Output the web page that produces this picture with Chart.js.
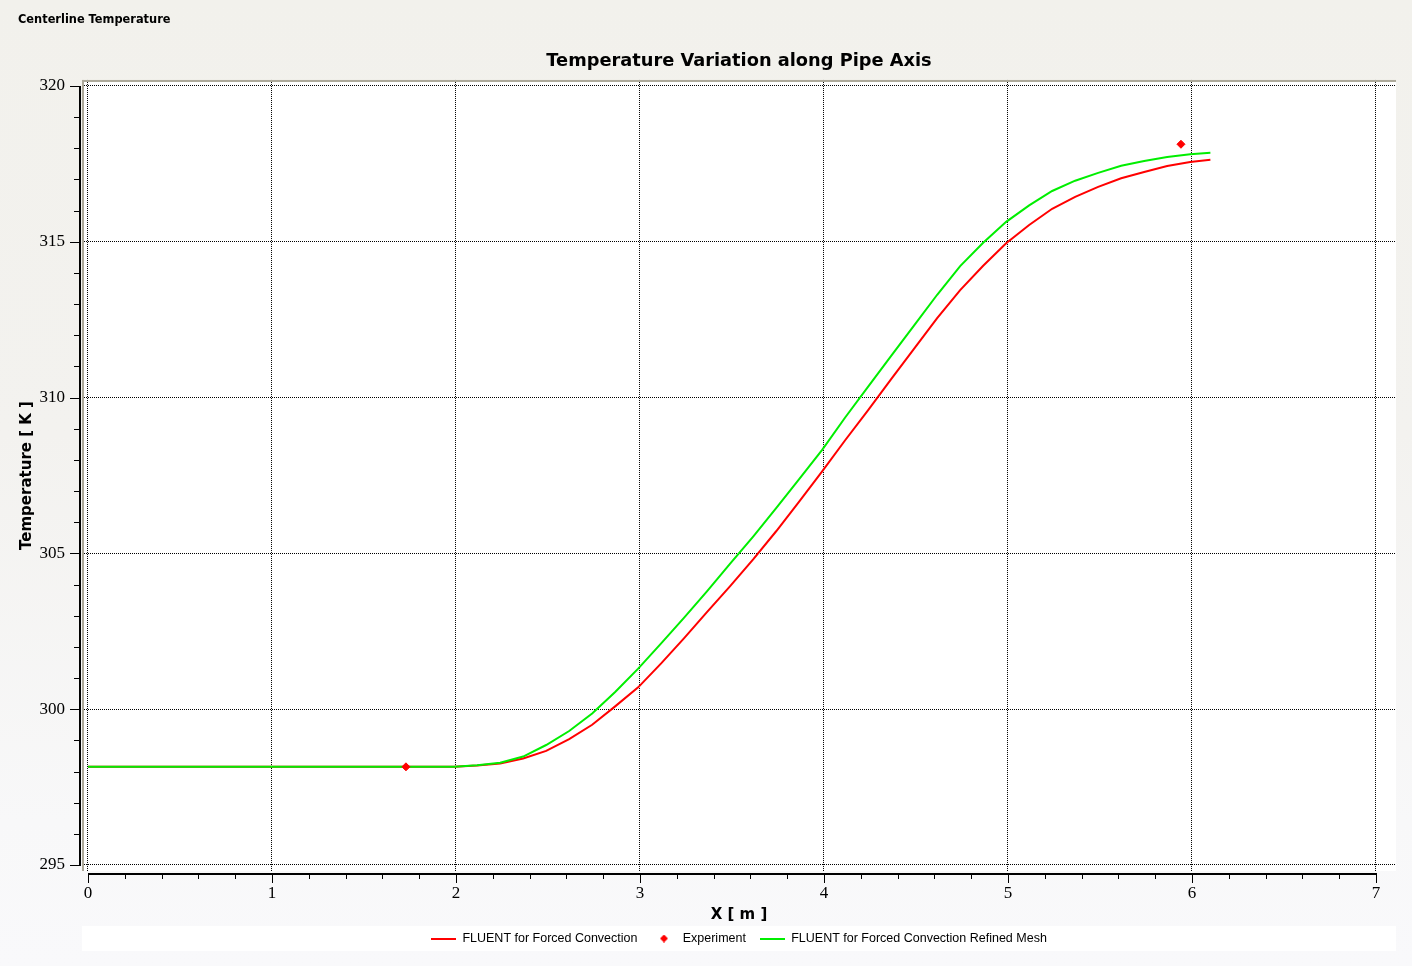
<!DOCTYPE html>
<html>
<head>
<meta charset="utf-8">
<script src="https://cdn.jsdelivr.net/npm/chart.js@4.4.1/dist/chart.umd.min.js"></script>
<style>
html,body{margin:0;padding:0;width:1412px;height:966px;overflow:hidden;
  background:linear-gradient(to bottom,#f2f1ec 0%,#f3f2ef 45%,#f8f8f9 85%,#f9f9fb 100%);}
#wrap{position:relative;width:1412px;height:966px;}
</style>
</head>
<body>
<div id="wrap"><canvas id="c"></canvas></div>
<script>
// ---------------- data ----------------
const xPos = [0, 0.5, 1.0, 1.5, 1.99, 2.115, 2.24, 2.365, 2.49, 2.615, 2.74, 2.865, 2.99,
  3.115, 3.24, 3.365, 3.49, 3.615, 3.74, 3.865, 3.99, 4.115, 4.24, 4.365, 4.49, 4.615,
  4.74, 4.865, 4.99, 5.115, 5.24, 5.365, 5.49, 5.615, 5.74, 5.865, 5.99, 6.1];
const tempCoarse = [298.15, 298.15, 298.15, 298.15, 298.15, 298.19, 298.26, 298.42, 298.66,
  299.04, 299.50, 300.09, 300.70, 301.47, 302.28, 303.12, 303.95, 304.81, 305.71, 306.66,
  307.63, 308.63, 309.60, 310.59, 311.57, 312.55, 313.45, 314.23, 314.95, 315.54, 316.06,
  316.44, 316.76, 317.04, 317.24, 317.43, 317.56, 317.63];
const tempRefined = [298.15, 298.15, 298.15, 298.15, 298.15, 298.20, 298.28, 298.48, 298.85,
  299.30, 299.86, 300.55, 301.30, 302.11, 302.94, 303.79, 304.67, 305.54, 306.45, 307.38,
  308.32, 309.36, 310.35, 311.34, 312.32, 313.30, 314.22, 314.97, 315.64, 316.17, 316.63,
  316.96, 317.21, 317.44, 317.59, 317.72, 317.81, 317.86];
const expX = [1.728, 5.94];
const expT = [298.15, 318.13];
const xTicks = [0, 1, 2, 3, 4, 5, 6, 7];
const yTicks = [295, 300, 305, 310, 315, 320];
const seriesNames = ['FLUENT for Forced Convection', 'Experiment', 'FLUENT for Forced Convection Refined Mesh'];
const chartTitle = 'Temperature Variation along Pipe Axis';
const windowTitle = 'Centerline Temperature';
const xTitle = 'X [ m ]';
const yTitle = 'Temperature [ K ]';

const RED = '#ff0000', GREEN = '#00ee00';

// legend icons
function lineIcon(color) {
  const c = document.createElement('canvas'); c.width = 25; c.height = 2;
  const g = c.getContext('2d'); g.fillStyle = color; g.fillRect(0, 0, 25, 2); return c;
}
function diamondIcon(color) {
  const c = document.createElement('canvas'); c.width = 8; c.height = 8;
  const g = c.getContext('2d'); g.fillStyle = color; g.beginPath();
  g.moveTo(4, 0); g.lineTo(8, 4); g.lineTo(4, 8); g.lineTo(0, 4); g.closePath(); g.fill(); return c;
}
const icons = [lineIcon(RED), diamondIcon(RED), lineIcon(GREEN)];

const decor = {
  id: 'decor',
  beforeDraw(chart) {
    const {ctx, chartArea: a} = chart;
    ctx.save();
    ctx.fillStyle = '#ffffff';
    ctx.fillRect(a.left, a.top, a.right - a.left, a.bottom - a.top);
    const lg = chart.legend;
    const cy = lg.top + 14 + 6.25;
    ctx.fillRect(a.left, Math.round(cy - 12.5), a.right - a.left, 25);
    ctx.fillStyle = '#000';
    ctx.font = 'bold 11.4px "DejaVu Sans"';
    ctx.textBaseline = 'middle';
    ctx.textAlign = 'left';
    ctx.fillText(windowTitle, 18, 20);
    ctx.restore();
  },
  afterDraw(chart) {
    const {ctx, chartArea: a, scales: {x, y}} = chart;
    ctx.save();
    ctx.fillStyle = '#aca899';
    ctx.fillRect(a.left, a.top, a.right - a.left, 2);
    ctx.fillRect(a.left, a.top, 2, a.bottom - a.top);
    ctx.fillStyle = '#000';
    // y axis
    const yTop = Math.round(y.getPixelForValue(yTicks[yTicks.length - 1]));
    const yBot = Math.round(y.getPixelForValue(yTicks[0]));
    const axX = a.left - 3;
    ctx.fillRect(axX, yTop, 2, yBot - yTop + 1);
    for (let v = yTicks[0]; v <= yTicks[yTicks.length - 1]; v += 1) {
      const p = Math.round(y.getPixelForValue(v));
      const major = yTicks.includes(v);
      const len = major ? 9 : 5;
      ctx.fillRect(axX - len, p, len, 1);
    }
    // x axis
    const xL = Math.round(x.getPixelForValue(xTicks[0]));
    const xR = Math.round(x.getPixelForValue(xTicks[xTicks.length - 1]));
    const axY = a.bottom + 2;
    ctx.fillRect(xL, axY, xR - xL + 1, 2);
    for (let i = 0; i <= (xTicks[xTicks.length - 1] - xTicks[0]) * 5; i++) {
      const v = xTicks[0] + i * 0.2;
      const p = Math.round(x.getPixelForValue(v));
      const major = i % 5 === 0;
      const len = major ? 8 : 4;
      ctx.fillRect(p, axY, 1, len + 2);
    }
    ctx.restore();
  }
};

const pts = (xs, ys) => xs.map((v, i) => ({x: v, y: ys[i]}));

new Chart(document.getElementById('c'), {
  type: 'scatter',
  data: {
    datasets: [
      {label: seriesNames[0], data: pts(xPos, tempCoarse), showLine: true, borderColor: RED,
       backgroundColor: RED, borderWidth: 2, pointRadius: 0, tension: 0, order: 2},
      {label: seriesNames[1], data: pts(expX, expT), showLine: false, borderColor: RED,
       backgroundColor: RED, pointStyle: 'rectRot', pointRadius: 4, pointBorderWidth: 1, order: 0},
      {label: seriesNames[2], data: pts(xPos, tempRefined), showLine: true, borderColor: GREEN,
       backgroundColor: GREEN, borderWidth: 2, pointRadius: 0, tension: 0, order: 1}
    ]
  },
  options: {
    responsive: true,
    maintainAspectRatio: false,
    devicePixelRatio: 1,
    animation: false,
    layout: {padding: {top: 0, left: 0, right: 16, bottom: 11.25}},
    scales: {
      x: {
        type: 'linear', min: -0.0326, max: 7.1087,
        afterBuildTicks(s) { s.ticks = xTicks.map(v => ({value: v})); },
        afterFit(s) { s.height = 47.25; },
        ticks: {font: {family: 'Liberation Serif', size: 17}, color: '#000', padding: 12,
                maxRotation: 0, autoSkip: false, includeBounds: false},
        grid: {color: '#000', lineWidth: 1, drawTicks: false},
        border: {display: false, dash: [1, 1]},
        title: {display: true, text: xTitle, color: '#000',
                font: {family: 'DejaVu Sans', size: 15, weight: 'bold'}, padding: {top: 0, bottom: -6}}
      },
      y: {
        type: 'linear', min: 294.807, max: 320.193,
        afterBuildTicks(s) { s.ticks = yTicks.map(v => ({value: v})); },
        afterFit(s) { s.width = 82; },
        ticks: {font: {family: 'Liberation Serif', size: 17}, color: '#000', padding: 17,
                autoSkip: false, includeBounds: false},
        grid: {color: '#000', lineWidth: 1, drawTicks: false},
        border: {display: false, dash: [1, 1]},
        title: {display: true, text: yTitle, color: '#000',
                font: {family: 'DejaVu Sans', size: 15, weight: 'bold'}, padding: {top: 18, bottom: 0}}
      }
    },
    plugins: {
      title: {display: true, text: chartTitle, color: '#000', fullSize: false,
              font: {family: 'DejaVu Sans', size: 17.8, weight: 'bold'}, padding: {top: 51, bottom: 7.6}},
      legend: {
        position: 'bottom', fullSize: false, align: 'center',
        labels: {
          usePointStyle: true, pointStyleWidth: 25, boxHeight: 5, padding: 14,
          font: {family: 'Liberation Sans', size: 12.5}, color: '#000',
          generateLabels(chart) {
            return chart.data.datasets.map((ds, i) => ({
              text: ds.label, fillStyle: ds.backgroundColor, strokeStyle: ds.borderColor,
              lineWidth: 0, pointStyle: icons[i], hidden: false, datasetIndex: i, fontColor: '#000'
            }));
          }
        }
      },
      tooltip: {enabled: false}
    }
  },
  plugins: [decor]
});
</script>
</body>
</html>
